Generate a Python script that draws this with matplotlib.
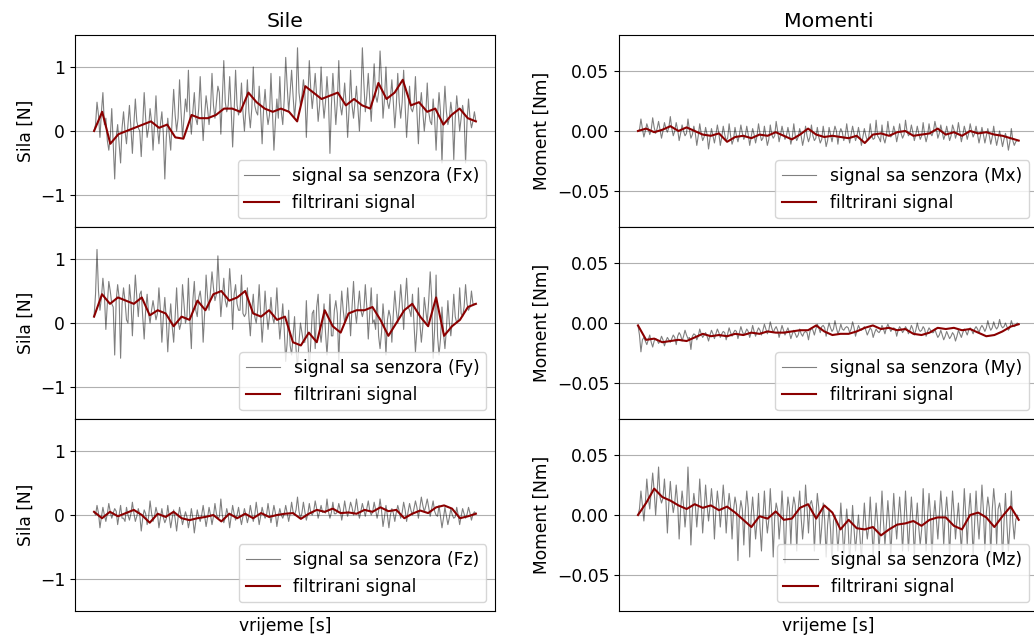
import numpy as np
import matplotlib
matplotlib.use("Agg")
import matplotlib.pyplot as plt

plt.rcParams['font.size'] = 12.3

# raw sensor signals
fx_raw = [0.0, 0.1, 0.45, 0.25, -0.1, 0.3, 0.6, 0.1, 0.2, -0.15, -0.3, -0.1, 0.35, -0.2, -0.75, -0.1, 0.1, -0.2, -0.5, 0.05, 0.3, 0.0, -0.2, 0.1, 0.4, 0.05,
          -0.35, 0.1, 0.5, 0.15, 0.05, 0.0, -0.4, 0.1, 0.6, 0.2, -0.1, 0.05, 0.35, 0.15, -0.3, 0.1, 0.55, 0.05, -0.2, 0.1, 0.3, -0.05, -0.75, -0.1, 0.2, -0.05,
          -0.3, 0.2, 0.65, 0.25, 0.0, 0.2, 0.8, 0.3, -0.1, 0.2, 0.5, 0.3, 0.95, 0.25, -0.05, 0.3, 0.6, 0.2, 0.1, 0.35, 0.85, 0.3, -0.15, 0.25, 0.55, 0.35,
          0.1, 0.35, 0.9, 0.4, 0.2, 0.45, 0.7, 0.6, -0.05, 0.5, 1.1, 0.45, 0.3, 0.4, 0.85, 0.35, -0.25, 0.3, 0.95, 0.4, 0.25, 0.35, 0.75, 0.3, 0.0, 0.35,
          0.8, 0.3, 0.05, 0.35, 1.0, 0.4, 0.3, 0.25, 0.7, 0.3, -0.2, 0.35, 0.65, 0.3, 0.1, 0.25, 0.9, 0.3, -0.3, 0.15, 0.5, 0.2, 0.85, 0.3, 0.1, 0.5,
          1.15, 0.7, 0.3, 0.6, 0.95, 0.55, 0.2, 0.5, 1.3, 0.6, 0.4, 0.55, 0.8, 0.6, -0.1, 0.5, 1.1, 0.65, 0.35, 0.6, 0.9, 0.55, 0.15, 0.4, 1.0, 0.5,
          0.2, 0.45, 0.85, 0.5, -0.35, 0.4, 0.9, 0.5, 0.1, 0.45, 1.1, 0.4, 0.25, 0.45, 0.75, 0.4, -0.1, 0.35, 0.95, 0.4, 0.2, 0.45, 0.7, 0.35, 0.0, 0.5,
          1.3, 0.75, 0.3, 0.55, 0.9, 0.5, 0.15, 0.6, 1.05, 0.55, 0.45, 0.6, 1.25, 0.8, 0.2, 0.5, 1.0, 0.45, 0.35, 0.5, 0.8, 0.45, 0.05, 0.4, 0.9, 0.45,
          0.2, 0.45, 0.95, 0.4, -0.1, 0.3, 0.7, 0.35, 0.3, 0.4, 0.85, 0.3, -0.2, 0.35, 0.6, 0.3, 0.0, 0.25, 0.75, 0.3, 0.15, 0.1, 0.5, 0.2, -0.3, 0.25,
          0.6, 0.3, -0.5, 0.25, 0.7, 0.3, 0.1, 0.2, 0.45, 0.25, -0.45, 0.2, 0.55, 0.3, 0.0, 0.2, 0.4, 0.25, -0.5, 0.15, 0.5, 0.2, 0.05, 0.15, 0.3, 0.15]
fy_raw = [0.1, 0.45, 1.15, 0.5, 0.2, 0.4, 0.7, 0.45, -0.1, 0.3, 0.65, 0.5, 0.3, 0.25, -0.5, 0.35, 0.6, 0.4, -0.55, 0.3, 0.55, 0.35, 0.05, 0.0, 0.6, 0.35,
          -0.2, 0.3, 0.75, 0.4, 0.1, 0.45, 0.5, 0.1, -0.25, 0.2, 0.45, 0.15, 0.0, 0.2, 0.35, 0.2, 0.05, 0.15, 0.55, 0.2, -0.3, 0.1, 0.4, 0.05, -0.45, 0.0,
          0.3, -0.05, -0.3, 0.1, 0.55, 0.05, -0.1, 0.0, 0.6, 0.3, 0.0, 0.1, 0.7, 0.05, -0.4, 0.35, 0.65, 0.2, 0.1, 0.4, 0.5, 0.3, -0.3, 0.15, 0.75, 0.4,
          0.2, 0.5, 0.8, 0.55, 0.35, 0.45, 1.05, 0.55, 0.1, 0.4, 0.7, 0.35, 0.25, 0.4, 0.85, 0.5, -0.1, 0.45, 0.6, 0.3, 0.2, 0.2, 0.75, 0.15, 0.1, 0.15,
          0.55, 0.1, -0.2, 0.2, 0.45, 0.1, 0.0, 0.2, 0.6, 0.15, -0.3, 0.05, 0.5, 0.15, -0.1, 0.1, 0.4, 0.1, 0.0, 0.15, 0.55, 0.1, -0.25, 0.0, 0.3, -0.1,
          -0.6, -0.3, 0.2, -0.35, -0.5, -0.2, 0.1, -0.4, -0.7, -0.3, 0.0, -0.15, -0.3, -0.3, 0.35, -0.25, -0.75, -0.3, 0.15, 0.2, -0.4, 0.25, 0.45, -0.1, -0.3, -0.05,
          0.3, -0.15, -0.5, -0.1, 0.45, -0.2, -0.2, 0.2, 0.35, 0.15, -0.6, 0.1, 0.5, 0.2, 0.0, 0.15, 0.55, 0.2, -0.2, 0.25, 0.65, 0.2, 0.0, 0.25, 0.5, 0.2,
          0.1, 0.2, 0.6, 0.25, -0.25, 0.15, 0.55, 0.0, 0.05, -0.1, 0.45, -0.2, -0.4, -0.15, 0.3, 0.0, -0.5, 0.05, 0.2, 0.1, -0.3, 0.15, 0.5, 0.2, 0.0, 0.25,
          0.6, 0.3, -0.1, 0.35, 0.7, 0.25, 0.2, 0.1, 0.45, 0.0, -0.45, -0.1, 0.55, 0.0, -0.3, -0.05, 0.4, 0.2, 0.0, 0.35, 0.8, 0.4, -0.55, -0.1, 0.75, -0.2,
          -0.5, -0.25, 0.25, -0.15, -0.4, -0.1, 0.35, 0.0, -0.2, 0.05, 0.45, 0.1, 0.0, 0.05, 0.55, 0.15, 0.1, 0.25, 0.6, 0.3, 0.2, 0.25, 0.5, 0.3, 0.3, 0.3]
fz_raw = [0.05, 0.0, 0.15, 0.03, -0.2, -0.03, 0.12, 0.0, -0.1, 0.02, 0.18, 0.05, -0.05, 0.03, 0.1, 0.06, -0.15, 0.0, 0.15, -0.05, -0.05, -0.1, 0.12, 0.0, -0.08, 0.02,
          0.2, 0.03, -0.1, -0.02, 0.1, 0.0, -0.25, -0.05, 0.08, 0.02, -0.15, -0.03, 0.22, 0.03, -0.1, -0.02, 0.12, 0.02, -0.2, -0.05, 0.1, -0.04, -0.12, -0.06, 0.15, -0.03,
          -0.2, -0.05, 0.08, -0.06, -0.25, -0.04, 0.12, -0.02, -0.15, -0.05, 0.05, -0.03, -0.2, -0.08, 0.1, -0.05, -0.28, -0.1, 0.08, -0.03, -0.1, 0.0, 0.15, -0.02, -0.18, -0.04,
          0.12, 0.0, -0.15, -0.02, 0.18, 0.02, -0.05, -0.03, 0.25, 0.0, -0.12, -0.04, 0.1, 0.0, -0.2, -0.02, 0.15, 0.02, -0.08, 0.0, 0.12, -0.03, -0.15, -0.02, 0.1, 0.0,
          -0.12, -0.02, 0.15, 0.02, -0.1, 0.0, 0.2, 0.03, -0.15, -0.02, 0.12, 0.02, -0.05, 0.0, 0.18, 0.02, -0.12, 0.01, 0.15, 0.03, -0.18, -0.02, 0.1, 0.0, -0.05, 0.02,
          0.15, 0.03, -0.1, 0.02, 0.2, 0.05, 0.0, 0.08, 0.28, 0.06, -0.05, 0.03, 0.2, 0.05, -0.08, 0.02, 0.18, 0.04, 0.0, 0.06, 0.22, 0.1, -0.05, 0.05, 0.15, 0.04,
          0.05, 0.03, 0.25, 0.05, -0.05, 0.04, 0.2, 0.02, 0.02, 0.05, 0.18, 0.08, -0.08, 0.05, 0.22, 0.07, -0.02, 0.08, 0.2, 0.12, 0.0, 0.08, 0.25, 0.07, -0.05, 0.06,
          0.18, 0.08, -0.02, 0.1, 0.22, 0.07, 0.0, 0.05, 0.2, 0.08, -0.05, 0.06, 0.25, 0.07, -0.18, -0.03, 0.15, -0.01, -0.2, 0.0, 0.1, 0.03, -0.1, 0.04, 0.15, 0.06,
          -0.05, 0.04, 0.2, 0.08, -0.1, 0.05, 0.18, 0.07, 0.0, 0.1, 0.22, 0.12, -0.05, 0.12, 0.28, 0.15, 0.05, 0.14, 0.25, 0.12, -0.02, 0.1, 0.22, 0.06, 0.0, -0.02,
          0.15, -0.03, -0.2, -0.05, 0.12, -0.02, -0.15, -0.04, 0.1, 0.0, -0.05, -0.03, 0.12, 0.0, -0.15, -0.02, 0.1, 0.02, -0.05, 0.01, 0.12, 0.03, -0.08, 0.01, 0.05, 0.02]
mx_raw = [0.0, 0.001, 0.01, 0.002, -0.005, 0.0, 0.006, 0.002, -0.003, 0.001, 0.011, 0.003, -0.002, 0.002, 0.008, 0.001, -0.006, 0.0, 0.007, 0.002, -0.001, 0.003, 0.012, 0.002, -0.004, 0.0,
          0.007, 0.001, -0.008, -0.002, 0.005, 0.0, -0.004, -0.002, 0.01, 0.001, -0.006, -0.003, 0.004, -0.002, -0.012, -0.004, 0.006, -0.002, -0.008, -0.005, 0.003, -0.003, -0.015, -0.006, 0.002, -0.004,
          -0.01, -0.003, 0.005, -0.002, -0.012, -0.005, 0.004, -0.003, -0.008, -0.006, 0.006, -0.004, -0.011, -0.007, 0.003, -0.004, -0.009, -0.003, 0.005, -0.002, -0.007, -0.004, 0.004, -0.003, -0.012, -0.005,
          0.002, -0.003, -0.01, -0.004, 0.006, -0.002, -0.008, -0.006, 0.004, -0.004, -0.012, -0.007, 0.005, -0.003, -0.006, -0.004, 0.008, 0.0, -0.009, -0.003, 0.004, -0.002, -0.007, -0.004, 0.003, -0.003,
          -0.011, -0.005, 0.006, -0.004, -0.008, -0.005, 0.002, -0.004, -0.012, -0.006, 0.004, -0.004, -0.009, -0.005, 0.005, -0.004, -0.008, -0.006, 0.003, -0.005, -0.01, -0.007, 0.004, -0.004, -0.013, -0.008,
          0.003, -0.003, -0.009, -0.002, 0.004, 0.0, -0.011, -0.002, 0.002, -0.001, -0.008, -0.004, 0.006, -0.003, -0.01, -0.003, 0.004, -0.002, -0.008, -0.004, 0.003, -0.004, -0.012, -0.005, 0.002, -0.004,
          -0.008, -0.005, 0.006, -0.004, -0.007, -0.006, 0.009, -0.004, -0.006, -0.009, 0.005, -0.006, -0.01, -0.004, 0.008, -0.002, -0.005, -0.003, 0.004, -0.001, -0.009, -0.003, 0.006, -0.002, -0.006, -0.003,
          0.009, 0.0, -0.004, -0.002, 0.005, -0.001, -0.008, -0.003, 0.004, -0.002, -0.007, -0.004, 0.007, -0.003, -0.009, -0.004, 0.006, -0.002, -0.004, 0.0, 0.008, 0.002, -0.006, -0.002, 0.005, -0.001,
          -0.007, -0.003, 0.004, -0.002, -0.008, -0.004, 0.005, 0.001, -0.006, -0.002, 0.007, -0.001, -0.009, -0.003, 0.004, -0.001, -0.007, -0.002, 0.006, 0.0, -0.005, -0.002, 0.004, -0.003, -0.01, -0.004,
          0.003, -0.003, -0.01, -0.004, 0.002, -0.004, -0.011, -0.005, 0.004, -0.005, -0.012, -0.006, 0.0, -0.006, -0.013, -0.007, -0.002, -0.007, -0.016, -0.009, 0.002, -0.008, -0.012, -0.009, -0.008, -0.008]
my_raw = [-0.002, -0.01, -0.024, -0.014, -0.012, -0.015, -0.018, -0.014, -0.01, -0.016, -0.02, -0.015, -0.013, -0.014, -0.017, -0.015, -0.011, -0.014, -0.019, -0.015, -0.012, -0.014, -0.016, -0.013, -0.01, -0.012,
          -0.018, -0.011, -0.008, -0.01, -0.015, -0.011, -0.006, -0.01, -0.013, -0.012, -0.022, -0.011, -0.009, -0.01, -0.014, -0.011, -0.005, -0.009, -0.012, -0.01, -0.008, -0.011, -0.015, -0.01, -0.006, -0.009,
          -0.013, -0.009, -0.005, -0.008, -0.012, -0.009, -0.007, -0.008, -0.014, -0.009, -0.004, -0.008, -0.011, -0.008, -0.006, -0.007, -0.013, -0.008, -0.003, -0.007, -0.01, -0.008, -0.005, -0.007, -0.012, -0.008,
          -0.002, -0.007, -0.011, -0.007, -0.004, -0.006, -0.01, -0.006, -0.001, -0.005, -0.009, -0.006, 0.001, -0.004, -0.008, -0.005, -0.003, -0.006, -0.012, -0.007, -0.002, -0.006, -0.01, -0.007, -0.004, -0.008,
          -0.013, -0.009, -0.006, -0.009, -0.012, -0.01, -0.005, -0.009, -0.011, -0.008, -0.007, -0.008, -0.014, -0.007, -0.004, -0.006, -0.01, -0.005, -0.001, -0.004, -0.008, -0.003, -0.002, -0.004, -0.011, -0.005,
          0.0, -0.004, -0.007, -0.005, 0.002, -0.004, -0.009, -0.006, -0.001, -0.005, -0.006, -0.004, -0.003, -0.004, -0.008, -0.005, 0.001, -0.004, -0.011, -0.006, -0.002, -0.005, -0.006, -0.005, -0.003, -0.006,
          -0.01, -0.007, -0.004, -0.006, -0.012, -0.008, -0.005, -0.007, -0.008, -0.006, -0.002, -0.005, -0.009, -0.004, -0.001, -0.004, -0.007, -0.005, -0.004, -0.005, -0.011, -0.006, -0.003, -0.005, -0.008, -0.006,
          -0.003, -0.005, -0.009, -0.006, -0.002, -0.005, -0.01, -0.006, 0.0, -0.005, -0.007, -0.006, -0.003, -0.005, -0.011, -0.007, -0.004, -0.006, -0.008, -0.008, -0.005, -0.009, -0.012, -0.01, -0.006, -0.01,
          -0.014, -0.011, -0.007, -0.01, -0.013, -0.011, -0.008, -0.01, -0.015, -0.011, -0.006, -0.009, -0.012, -0.008, -0.005, -0.007, -0.01, -0.006, -0.004, -0.006, -0.009, -0.005, -0.003, -0.005, -0.008, -0.004,
          -0.002, -0.004, -0.007, -0.004, 0.002, -0.003, -0.006, -0.004, 0.001, -0.003, -0.005, -0.003, 0.003, -0.002, -0.004, -0.003, 0.0, -0.003, -0.006, -0.004, 0.002, -0.002, -0.003, -0.002, 0.0, -0.001]
mz_raw = [0.0, 0.005, 0.02, 0.008, -0.005, 0.01, 0.03, 0.015, 0.005, 0.02, 0.035, 0.02, 0.0, 0.018, 0.04, 0.015, 0.01, 0.014, 0.03, 0.012, -0.015, 0.01, 0.028, 0.012, 0.002, 0.01,
          0.025, 0.01, -0.02, 0.005, 0.02, 0.008, -0.01, 0.005, 0.04, 0.01, -0.025, 0.004, 0.018, 0.008, -0.01, 0.006, 0.03, 0.01, -0.015, 0.004, 0.025, 0.008, -0.005, 0.007, 0.022, 0.008,
          -0.02, 0.004, 0.02, 0.008, -0.01, 0.006, 0.025, 0.009, -0.015, 0.005, 0.018, 0.007, -0.02, 0.004, 0.015, 0.008, -0.038, 0.002, 0.012, 0.005, -0.025, 0.003, 0.02, 0.006, -0.035, 0.0,
          0.015, -0.002, -0.02, -0.005, 0.018, -0.01, -0.03, -0.003, 0.02, -0.001, -0.015, -0.004, 0.022, 0.0, -0.035, -0.002, 0.01, 0.004, -0.02, -0.004, 0.02, -0.002, -0.04, -0.004, 0.015, 0.006,
          -0.025, 0.005, 0.015, 0.008, -0.03, 0.005, 0.02, -0.002, -0.02, -0.004, 0.025, 0.006, -0.015, 0.009, 0.012, 0.006, -0.03, -0.002, 0.018, 0.006, -0.025, -0.01, 0.01, -0.004, -0.035, -0.008,
          0.005, -0.012, -0.04, -0.005, 0.0, -0.01, -0.03, -0.012, 0.01, -0.01, -0.035, -0.012, 0.005, -0.01, -0.04, -0.016, 0.008, -0.012, -0.03, -0.014, 0.0, -0.018, -0.038, -0.012, 0.01, -0.008,
          -0.02, -0.01, 0.015, -0.008, -0.035, -0.009, 0.01, -0.006, -0.03, -0.007, 0.02, -0.005, -0.025, -0.008, 0.012, -0.005, -0.035, -0.006, 0.018, -0.004, -0.02, -0.002, 0.015, -0.003, -0.03, -0.005,
          0.02, -0.004, -0.03, -0.006, 0.015, -0.004, -0.035, -0.008, 0.01, -0.01, -0.025, -0.012, 0.022, -0.004, -0.03, -0.002, 0.018, 0.0, -0.04, -0.003, 0.012, -0.004, -0.02, 0.0, 0.02, 0.003,
          -0.025, 0.0, 0.015, -0.002, -0.035, -0.004, 0.02, 0.002, -0.02, -0.004, 0.01, -0.01, -0.03, -0.006, 0.022, 0.0, -0.025, 0.002, 0.018, -0.002, -0.035, -0.008, 0.02, -0.004, -0.02, 0.0,
          0.025, 0.004, -0.03, 0.002, 0.015, 0.006, -0.035, 0.004, 0.022, 0.008, -0.025, 0.005, 0.01, 0.002, -0.04, -0.006, 0.018, -0.008, -0.03, -0.01, 0.02, -0.006, -0.02, -0.004, 0.0, -0.004]

# filtered signals
fx_filt = [0.0, 0.3, -0.2, -0.05, 0.0, 0.05, 0.1, 0.15, 0.05, 0.1, -0.1, -0.12, 0.25, 0.2, 0.2, 0.25,
           0.35, 0.35, 0.3, 0.6, 0.45, 0.35, 0.3, 0.35, 0.3, 0.15, 0.7, 0.6, 0.5, 0.55, 0.6, 0.4,
           0.5, 0.4, 0.35, 0.75, 0.5, 0.6, 0.8, 0.4, 0.45, 0.3, 0.35, 0.1, 0.25, 0.35, 0.2, 0.15]
fy_filt = [0.1, 0.45, 0.3, 0.4, 0.35, 0.3, 0.4, 0.12, 0.2, 0.15, -0.05, 0.1, 0.05, 0.35, 0.2, 0.45,
           0.5, 0.35, 0.4, 0.5, 0.15, 0.1, 0.2, 0.05, 0.1, -0.3, -0.35, -0.15, -0.3, 0.2, -0.05, -0.15,
           0.15, 0.2, 0.2, 0.25, 0.05, -0.2, 0.0, 0.2, 0.3, 0.1, -0.05, 0.4, -0.2, -0.05, 0.05, 0.25, 0.3]
fz_filt = [0.05, -0.05, 0.05, -0.02, 0.03, 0.08, 0.0, -0.12, 0.02, -0.03, 0.05, -0.05, -0.08, -0.05,
           -0.03, 0.0, -0.1, 0.02, -0.05, 0.02, -0.05, 0.03, -0.03, 0.0, 0.02, 0.03, -0.06, 0.02, 0.08,
           0.05, 0.1, 0.03, 0.04, 0.02, 0.08, 0.05, 0.12, 0.06, 0.08, -0.05, 0.02, 0.07, 0.03, 0.12,
           0.15, 0.1, -0.05, -0.02, 0.02]
mx_filt = [0.0, 0.002, -0.001, 0.001, 0.004, 0.0, 0.003, 0.0, -0.003, -0.004, -0.002, -0.009,
           -0.005, -0.004, -0.006, -0.003, -0.004, -0.001, -0.004, -0.007, -0.003, 0.002, -0.003,
           -0.005, -0.004, -0.005, -0.006, -0.004, -0.01, -0.003, -0.002, -0.004, -0.001, 0.0,
           -0.004, -0.003, -0.002, 0.002, -0.003, -0.001, -0.004, 0.0, -0.002, -0.001, -0.003,
           -0.004, -0.006, -0.008]
my_filt = [-0.002, -0.014, -0.013, -0.016, -0.015, -0.014, -0.015, -0.012, -0.009, -0.011, -0.01,
           -0.011, -0.009, -0.01, -0.008, -0.009, -0.007, -0.008, -0.008, -0.007, -0.006, -0.006,
           -0.002, -0.007, -0.01, -0.009, -0.009, -0.007, -0.004, -0.002, -0.005, -0.004, -0.006,
           -0.005, -0.009, -0.01, -0.008, -0.004, -0.005, -0.004, -0.006, -0.005, -0.008, -0.011,
           -0.01, -0.007, -0.003, -0.001]
mz_filt = [0.0, 0.01, 0.022, 0.015, 0.012, 0.008, 0.005, 0.009, 0.006, 0.008, 0.004, 0.007, 0.002,
           -0.004, -0.01, -0.001, -0.003, 0.003, -0.004, -0.003, 0.006, 0.009, -0.003, 0.008, 0.002,
           -0.012, -0.004, -0.011, -0.012, -0.01, -0.017, -0.012, -0.008, -0.007, -0.005, -0.009,
           -0.004, -0.002, -0.002, -0.009, -0.012, 0.0, 0.002, -0.002, -0.01, -0.001, 0.007, -0.004]

names = ['Fx', 'Fy', 'Fz', 'Mx', 'My', 'Mz']
raw = [fx_raw, fy_raw, fz_raw, mx_raw, my_raw, mz_raw]
filt = [fx_filt, fy_filt, fz_filt, mx_filt, my_filt, mz_filt]

fig = plt.figure(figsize=(10.34, 6.41), dpi=100)
bottoms = [0.6459, 0.3463, 0.0468]
h = 0.2995
for col, (left, width) in enumerate([(0.0725, 0.4062), (0.5986, 0.405)]):
    for row in range(3):
        ax = fig.add_axes([left, bottoms[row], width, h])
        i = col * 3 + row
        t_raw = np.linspace(0, 1, len(raw[i]))
        t_filt = np.linspace(0, 1, len(filt[i]))
        ax.plot(t_raw, raw[i], color='black', alpha=0.5, lw=0.8,
                label='signal sa senzora (%s)' % names[i])
        ax.plot(t_filt, filt[i], color='darkred', lw=1.5, label='filtrirani signal')
        ax.yaxis.grid(True, color='#b0b0b0')
        ax.set_axisbelow(True)
        ax.set_xticks([])
        ax.legend(loc='lower right')
        if col == 0:
            ax.set_ylim(-1.5, 1.5)
            ax.set_yticks([-1, 0, 1])
            ax.set_ylabel('Sila [N]')
        else:
            ax.set_ylim(-0.08, 0.08)
            ax.set_yticks([-0.05, 0.0, 0.05])
            ax.set_ylabel('Moment [Nm]')
        if row == 0:
            ax.set_title('Sile' if col == 0 else 'Momenti')
        if row == 2:
            ax.set_xlabel('vrijeme [s]')

fig.savefig('out.png', dpi=100)
